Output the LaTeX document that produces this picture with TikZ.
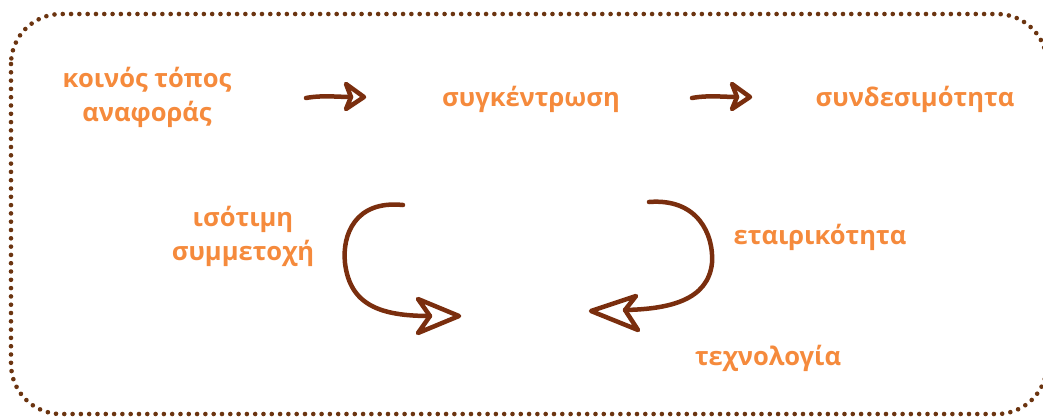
\documentclass[tikz,border=0pt]{standalone}
\usepackage{fontspec}
\setmainfont{Open Sans}
\definecolor{txt}{HTML}{F58A3C}
\definecolor{arr}{HTML}{7A2E0E}
\definecolor{dots}{HTML}{6B3410}
\tikzset{
  lbl/.style={text=txt, font=\fontsize{25.5}{34}\selectfont\bfseries, align=center, inner sep=0pt},
  handarrow/.style={draw=arr, line width=4.5pt, line cap=round, line join=round},
}
\begin{document}
\begin{tikzpicture}[x=1pt,y=-1pt]
\useasboundingbox (0,0) rectangle (1043,416);
\begin{scope}
\clip (0,0) rectangle (1043,416);
\draw[dots, line width=4.6pt, line cap=round, dash pattern=on 0pt off 8.3pt, rounded corners=50pt] (11,14) rectangle (1047,414);
\end{scope}
\node[lbl] (a) at (147,97) {κοινός τόπος\\αναφοράς};
\node[lbl] (b) at (531,99) {συγκέντρωση};
\node[lbl] (c) at (915,99) {συνδεσιμότητα};
\node[lbl] (d) at (243,236) {ισότιμη\\συμμετοχή};
\node[lbl] (e) at (820,237) {εταιρικότητα};
\node[lbl] (f) at (768,358) {τεχνολογία};
% straight arrow 1
\coordinate (a1s) at (306,98);
\coordinate (a1n) at (351,97);
\draw[handarrow] (a1s) .. controls (322,95) and (338,97) .. (a1n);
\draw[handarrow] (346,84) -- (364,97) -- (346,109) -- (351,97) -- cycle;
% straight arrow 2
\coordinate (a2s) at (692,98);
\coordinate (a2n) at (737,97);
\draw[handarrow] (a2s) .. controls (708,95) and (724,97) .. (a2n);
\draw[handarrow] (732,84) -- (750,97) -- (732,109) -- (737,97) -- cycle;
% left curved arrow
\coordinate (l1) at (403,205);
\coordinate (l2) at (345,263);
\coordinate (l3) at (430,316);
\draw[handarrow] (l1) .. controls (355,200) and (342,235) .. (l2) .. controls (350,305) and (380,316) .. (l3);
\draw[handarrow] (418,299) -- (459,316) -- (418,333) -- (430,316) -- cycle;
% right curved arrow
\coordinate (r1) at (649,202);
\coordinate (r2) at (712,263);
\coordinate (r3) at (625,310);
\draw[handarrow] (r1) .. controls (698,198) and (714,235) .. (r2) .. controls (708,300) and (670,309) .. (r3);
\draw[handarrow] (636,296) -- (591,311) -- (638,330) -- (625,310) -- cycle;
\end{tikzpicture}
\end{document}
